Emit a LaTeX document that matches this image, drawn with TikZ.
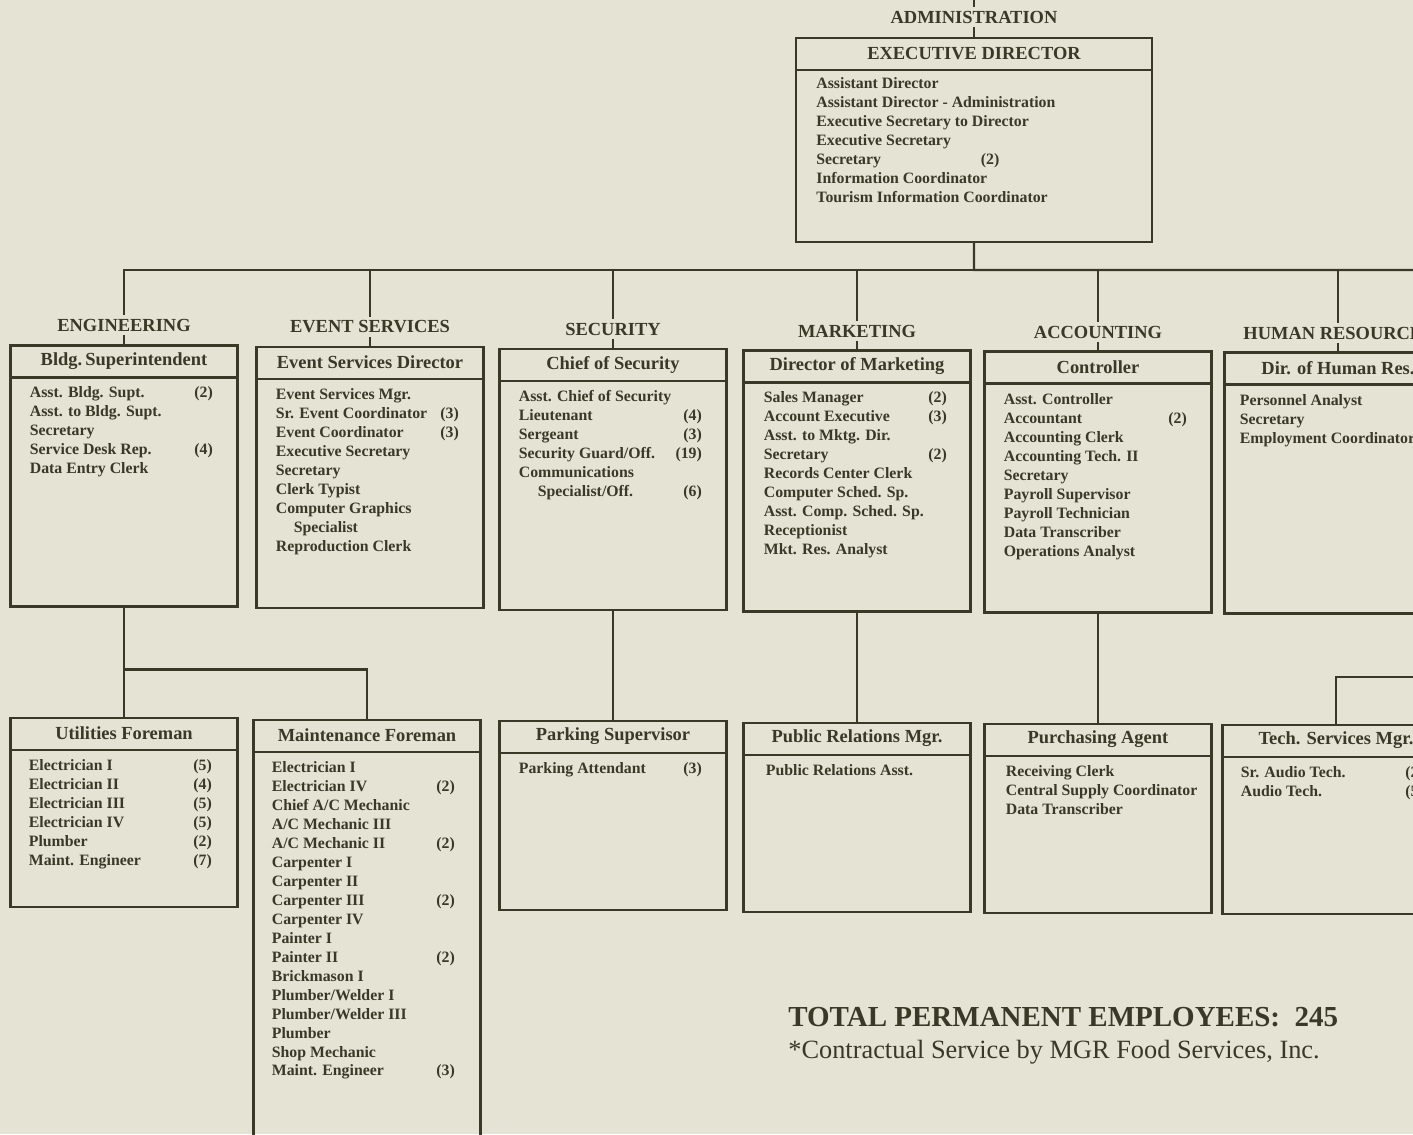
\documentclass[tikz,border=0pt]{standalone}
\usepackage{fontspec}
\setmainfont{Liberation Serif}
\usepackage{xcolor}
\usetikzlibrary{positioning}
\definecolor{paper}{HTML}{E4E3D4}
\definecolor{ink}{HTML}{3A3928}
\newcommand{\staffline}[2]{\makebox[3.66cm][l]{#1\hfill#2}}

\begin{document}
\begin{tikzpicture}[x=0.02cm,y=-0.02cm]
    %styles
    \tikzstyle{unit}=[rectangle,draw=ink,line width=1.5pt,minimum width=4.54cm,inner sep=0pt,outer sep=0pt]
    \tikzstyle{dept}=[text=ink,font=\fontsize{10.5}{12}\selectfont\bfseries,inner sep=2pt]
    \tikzstyle{head}=[text=ink,font=\fontsize{10.5}{12}\selectfont\bfseries,inner sep=0pt]
    \tikzstyle{staff}=[text=ink,font=\fontsize{9}{10.8}\selectfont\bfseries,align=left,anchor=north west,inner sep=0pt]
    \tikzstyle{bar}=[draw=ink,line width=1.3pt]
    \tikzstyle{link}=[draw=ink,line width=1.2pt]

    \useasboundingbox (0,0) rectangle (1413,1134);
    \fill[paper] (0,0) rectangle (1413,1134);
    \clip (0,0) rectangle (1413,1134);

    %labels
    \node[dept] (admL) at (974,17) {ADMINISTRATION};
    \node[dept] (engL) at (124,325) {ENGINEERING};
    \node[dept] (evL) at (370,327) {EVENT SERVICES};
    \node[dept] (secL) at (613,329) {SECURITY};
    \node[dept] (mktL) at (857,331) {MARKETING};
    \node[dept] (accL) at (1098,332) {ACCOUNTING};
    \node[dept] (hrL) at (1338,333) {HUMAN RESOURCES};

    %boxes
    \node[unit,minimum width=7.12cm,minimum height=4.08cm] (exec) at (974,140) {};
    \node[unit,minimum height=5.22cm] (eng) at (124,476) {};
    \node[unit,minimum height=5.22cm] (ev) at (370,477.5) {};
    \node[unit,minimum height=5.22cm] (sec) at (613,479.5) {};
    \node[unit,minimum height=5.22cm] (mkt) at (857,481) {};
    \node[unit,minimum height=5.22cm] (acc) at (1098,482) {};
    \node[unit,minimum height=5.22cm] (hr) at (1338,483) {};
    \node[unit,minimum height=3.78cm] (util) at (124,812.5) {};
    \node[unit,minimum height=8.8cm] (maint) at (367,940) {};
    \node[unit,minimum height=3.78cm] (park) at (613,815.5) {};
    \node[unit,minimum height=3.78cm] (pr) at (857,817.5) {};
    \node[unit,minimum height=3.78cm] (pur) at (1098,818.5) {};
    \node[unit,minimum height=3.78cm] (tech) at (1336,819.5) {};

    \foreach \b in {exec,eng,ev,sec,mkt,acc,hr,util,maint,park,pr,pur,tech}
        \draw[bar] ([yshift=-0.64cm]\b.north west) -- ([yshift=-0.64cm]\b.north east);

    %titles
    \node[head] (execT) at ([yshift=-0.31cm]exec.north) {EXECUTIVE DIRECTOR};
    \node[head] (engT) at ([yshift=-0.31cm]eng.north) {Bldg.\,Superintendent};
    \node[head] (evT) at ([yshift=-0.31cm]ev.north) {Event Services Director};
    \node[head] (secT) at ([yshift=-0.31cm]sec.north) {Chief of Security};
    \node[head] (mktT) at ([yshift=-0.31cm]mkt.north) {Director of Marketing};
    \node[head] (accT) at ([yshift=-0.31cm]acc.north) {Controller};
    \node[head] (hrT) at ([yshift=-0.31cm]hr.north) {Dir. of Human Res.};
    \node[head] (utilT) at ([yshift=-0.31cm]util.north) {Utilities Foreman};
    \node[head] (maintT) at ([yshift=-0.31cm]maint.north) {Maintenance Foreman};
    \node[head] (parkT) at ([yshift=-0.31cm]park.north) {Parking Supervisor};
    \node[head] (prT) at ([yshift=-0.31cm]pr.north) {Public Relations Mgr.};
    \node[head] (purT) at ([yshift=-0.31cm]pur.north) {Purchasing Agent};
    \node[head] (techT) at ([yshift=-0.31cm]tech.north) {Tech. Services Mgr.};

    %staff lists
    \node[staff] (execS) at ([xshift=0.4cm,yshift=-0.78cm]exec.north west) {Assistant Director\\Assistant Director - Administration\\Executive Secretary to Director\\Executive Secretary\\\staffline{Secretary}{(2)}\\Information Coordinator\\Tourism Information Coordinator};
    \node[staff] (engS) at ([xshift=0.38cm,yshift=-0.82cm]eng.north west) {\staffline{Asst. Bldg. Supt.}{(2)}\\Asst. to Bldg. Supt.\\Secretary\\\staffline{Service Desk Rep.}{(4)}\\Data Entry Clerk};
    \node[staff] (evS) at ([xshift=0.38cm,yshift=-0.82cm]ev.north west) {Event Services Mgr.\\\staffline{Sr. Event Coordinator}{(3)}\\\staffline{Event Coordinator}{(3)}\\Executive Secretary\\Secretary\\Clerk Typist\\Computer Graphics\\\hspace*{0.36cm}Specialist\\Reproduction Clerk};
    \node[staff] (secS) at ([xshift=0.38cm,yshift=-0.82cm]sec.north west) {Asst. Chief of Security\\\staffline{Lieutenant}{(4)}\\\staffline{Sergeant}{(3)}\\\staffline{Security Guard/Off.}{(19)}\\Communications\\\staffline{\hspace*{0.38cm}Specialist/Off.}{(6)}};
    \node[staff] (mktS) at ([xshift=0.4cm,yshift=-0.82cm]mkt.north west) {\staffline{Sales Manager}{(2)}\\\staffline{Account Executive}{(3)}\\Asst. to Mktg. Dir.\\\staffline{Secretary}{(2)}\\Records Center Clerk\\Computer Sched. Sp.\\Asst. Comp. Sched. Sp.\\Receptionist\\Mkt. Res. Analyst};
    \node[staff] (accS) at ([xshift=0.38cm,yshift=-0.84cm]acc.north west) {Asst. Controller\\\staffline{Accountant}{(2)}\\Accounting Clerk\\Accounting Tech. II\\Secretary\\Payroll Supervisor\\Payroll Technician\\Data Transcriber\\Operations Analyst};
    \node[staff] (hrS) at ([xshift=0.3cm,yshift=-0.84cm]hr.north west) {Personnel Analyst\\Secretary\\Employment Coordinator};
    \node[staff] (utilS) at ([xshift=0.36cm,yshift=-0.82cm]util.north west) {\staffline{Electrician I}{(5)}\\\staffline{Electrician II}{(4)}\\\staffline{Electrician III}{(5)}\\\staffline{Electrician IV}{(5)}\\\staffline{Plumber}{(2)}\\\staffline{Maint. Engineer}{(7)}};
    \node[staff] (maintS) at ([xshift=0.36cm,yshift=-0.82cm]maint.north west) {Electrician I\\\staffline{Electrician IV}{(2)}\\Chief A/C Mechanic\\A/C Mechanic III\\\staffline{A/C Mechanic II}{(2)}\\Carpenter I\\Carpenter II\\\staffline{Carpenter III}{(2)}\\Carpenter IV\\Painter I\\\staffline{Painter II}{(2)}\\Brickmason I\\Plumber/Welder I\\Plumber/Welder III\\Plumber\\Shop Mechanic\\\staffline{Maint. Engineer}{(3)}};
    \node[staff] (parkS) at ([xshift=0.38cm,yshift=-0.82cm]park.north west) {\staffline{Parking Attendant}{(3)}};
    \node[staff] (prS) at ([xshift=0.44cm,yshift=-0.82cm]pr.north west) {Public Relations Asst.};
    \node[staff] (purS) at ([xshift=0.42cm,yshift=-0.82cm]pur.north west) {Receiving Clerk\\Central Supply Coordinator\\Data Transcriber};
    \node[staff] (techS) at ([xshift=0.36cm,yshift=-0.82cm]tech.north west) {\staffline{Sr. Audio Tech.}{(2)}\\\staffline{Audio Tech.}{(5)}};

    %totals
    \node[anchor=west,inner sep=0pt,text=ink,font=\fontsize{16.5}{20}\selectfont\bfseries] (total) at (788,1017) {TOTAL PERMANENT EMPLOYEES:\ \ 245};
    \node[anchor=west,inner sep=0pt,text=ink,font=\fontsize{15}{18}\selectfont] (contract) at (788,1052) {*Contractual Service by MGR Food Services, Inc.};

    %lines
    \coordinate (admUp) at (974,-10);
    \coordinate (busR) at (1420,270);
    \coordinate (techR) at (1420,677);
    \draw[link] (admUp) -- (admL.north);
    \draw[link] (admL.south) -- (exec.north);
    \foreach \d in {engL,evL,secL,mktL,accL,hrL}
        \draw[link] (exec.south) -- ++(0,28) -| (\d.north);
    \draw[link] (exec.south) -- ++(0,28) -- (busR);
    \draw[link] (engL.south) -- (eng.north);
    \draw[link] (evL.south) -- (ev.north);
    \draw[link] (secL.south) -- (sec.north);
    \draw[link] (mktL.south) -- (mkt.north);
    \draw[link] (accL.south) -- (acc.north);
    \draw[link] (hrL.south) -- (hr.north);
    \draw[link] (eng.south) -- (util.north);
    \draw[link] (eng.south) -- ++(0,63) -| (maint.north);
    \draw[link] (sec.south) -- (park.north);
    \draw[link] (mkt.south) -- (pr.north);
    \draw[link] (acc.south) -- (pur.north);
    \draw[link] (tech.north) |- (techR);
\end{tikzpicture}
\end{document}
